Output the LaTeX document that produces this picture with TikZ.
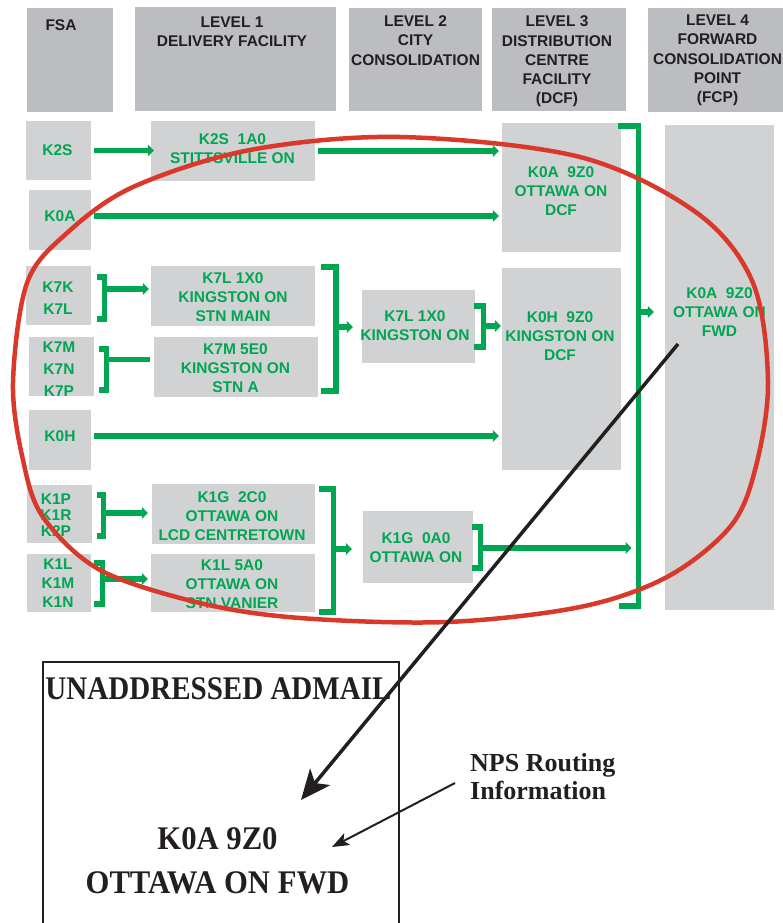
\documentclass[tikz,border=0pt]{standalone}
\usepackage{fontspec}
\setmainfont{Liberation Serif}
\setsansfont{Liberation Sans}
\usepackage{graphicx}
\usetikzlibrary{arrows.meta,fit}
\definecolor{gr}{HTML}{00A651}
\definecolor{rd}{HTML}{D8392B}
\definecolor{hdgrey}{HTML}{BCBDC0}
\definecolor{bxgrey}{HTML}{D1D2D4}
\definecolor{hdtext}{HTML}{231F20}
\definecolor{blk}{HTML}{231F20}
\begin{document}
\begin{tikzpicture}[x=1pt,y=-1pt,
  hbox/.style={fill=hdgrey, inner sep=0pt, draw=none},
  cbox/.style={fill=bxgrey, inner sep=0pt, draw=none},
  htxt/.style={text=hdtext, font=\sffamily\bfseries\fontsize{15.5}{19.3}\selectfont, align=center, inner sep=0pt},
  gtxt/.style={text=gr, font=\sffamily\bfseries\fontsize{15.5}{19}\selectfont, align=center, inner sep=0pt},
  garrow/.style={draw=gr, line width=5.5pt, -{Triangle[length=6pt,width=12pt]}},
  gline/.style={draw=gr, line width=5.5pt},
  gbrack/.style={draw=gr, line width=5.5pt, line join=miter, line cap=butt},
  redloop/.style={draw=rd, line width=4.5pt},
  bigarrow/.style={draw=blk, line width=3.5pt, -{Stealth[length=30pt,width=26pt,inset=8pt]}},
  smallarrow/.style={draw=blk, line width=2pt, -{Stealth[length=17pt,width=13pt,inset=4pt]}},
  mailbox/.style={draw=blk, line width=2.2pt, inner sep=0pt, minimum width=356pt, minimum height=300pt, anchor=north west},
  serifb/.style={text=blk, inner sep=0pt, align=center}
]
\useasboundingbox (0,0) rectangle (783,923);

% header boxes
\node[hbox, fit={(27,8) (113,112)}] (hfsa) {};
\node[hbox, fit={(135,7) (336,111)}] (hl1) {};
\node[hbox, fit={(349,8) (482,111)}] (hl2) {};
\node[hbox, fit={(492,8) (626,111)}] (hl3) {};
\node[hbox, fit={(648,8) (783,112)}] (hl4) {};

\node[htxt] (thfsa) at (61,25.5) {FSA};
\node[htxt] (thl1) at (232,32) {LEVEL 1\\DELIVERY FACILITY};
\node[htxt] (thl2) at (415.5,40.5) {LEVEL 2\\CITY\\CONSOLIDATION};
\node[htxt] (thl3) at (557,61.5) {LEVEL 3\\DISTRIBUTION\\CENTRE\\FACILITY\\(DCF)};
\node[htxt] (thl4) at (717.5,60.5) {LEVEL 4\\FORWARD\\CONSOLIDATION\\POINT\\(FCP)};

% content boxes
\node[cbox, fit={(26,121) (91,180)}] (bk2s) {};
\node[cbox, fit={(29,190) (91,250)}] (bk0a) {};
\node[cbox, fit={(151,121) (315,181)}] (bstit) {};
\node[cbox, fit={(502,123) (621,252)}] (bdcfo) {};
\node[cbox, fit={(665,125) (774,610)}] (bfwd) {};
\node[cbox, fit={(26,266) (91,325)}] (bk7k) {};
\node[cbox, fit={(29,337) (94,396)}] (bk7m) {};
\node[cbox, fit={(29,410) (91,470)}] (bk0h) {};
\node[cbox, fit={(151,266) (315,326)}] (bmain) {};
\node[cbox, fit={(154,337) (318,397)}] (bstna) {};
\node[cbox, fit={(362,290) (475,363)}] (bking2) {};
\node[cbox, fit={(502,268) (621,470)}] (bdcfk) {};
\node[cbox, fit={(27,485) (92,543)}] (bk1p) {};
\node[cbox, fit={(27,554) (91,612)}] (bk1l) {};
\node[cbox, fit={(152,484) (315,544)}] (blcd) {};
\node[cbox, fit={(151,554) (315,612)}] (bvan) {};
\node[cbox, fit={(363,511) (473,583)}] (bott2) {};

% green texts
\node[gtxt] (tk2s) at (57.5,150.5) {K2S};
\node[gtxt] (tk0a) at (60,216) {K0A};
\node[gtxt] (tstit) at (232.5,148.5) {K2S~~1A0\\STITTSVILLE ON};
\node[gtxt] (tdcfo) at (561,190.7) {K0A~~9Z0\\OTTAWA ON\\DCF};
\node[gtxt] (tfwd) at (719.5,312.5) {K0A~~9Z0\\OTTAWA ON\\FWD};
\node[gtxt, font=\sffamily\bfseries\fontsize{15.5}{21.5}\selectfont] (tk7k) at (58,298) {K7K\\K7L};
\node[gtxt, font=\sffamily\bfseries\fontsize{15.5}{22}\selectfont] (tk7m) at (59,369) {K7M\\K7N\\K7P};
\node[gtxt] (tk0h) at (60,436) {K0H};
\node[gtxt] (tmain) at (233,296.7) {K7L 1X0\\KINGSTON ON\\STN MAIN};
\node[gtxt] (tstna) at (235.5,368) {K7M 5E0\\KINGSTON ON\\STN A};
\node[gtxt] (tking2) at (415,325.5) {K7L 1X0\\KINGSTON ON};
\node[gtxt] (tdcfk) at (560,336) {K0H~~9Z0\\KINGSTON ON\\DCF};
\node[gtxt, font=\sffamily\bfseries\fontsize{15.5}{16}\selectfont] (tk1p) at (56,515) {K1P\\K1R\\K2P};
\node[gtxt] (tk1l) at (58,583) {K1L\\K1M\\K1N};
\node[gtxt] (tlcd) at (232,516) {K1G~~2C0\\OTTAWA ON\\LCD CENTRETOWN};
\node[gtxt] (tvan) at (232,584) {K1L 5A0\\OTTAWA ON\\STN VANIER};
\node[gtxt] (tott2) at (416,548) {K1G~~0A0\\OTTAWA ON};

% straight green arrows
\draw[garrow] ([xshift=3pt]bk2s.east) -- ([xshift=3pt]bk2s.east -| bstit.west);
\draw[garrow] ([xshift=3pt]bstit.east) -- ([xshift=-3pt]bstit.east -| bdcfo.west);
\draw[garrow] ([xshift=3pt,yshift=4pt]bk0a.east) -- ([xshift=-3pt,yshift=4pt]bk0a.east -| bdcfo.west);
\draw[garrow] ([xshift=3pt,yshift=4pt]bk0h.east) -- ([xshift=-3pt,yshift=4pt]bk0h.east -| bdcfk.west);

% brackets
\draw[gbrack] (97,277) -- (104.3,277) -- (104.3,319) -- (97,319);
\coordinate (c1) at (104.3,289);
\draw[garrow] (c1) -- ([xshift=-2pt]c1 -| bmain.west);

\draw[gbrack] (99,349) -- (106.3,349) -- (106.3,390) -- (99,390);
\coordinate (c2) at (106.3,359.5);
\draw[gline] (c2) -- ([xshift=-4pt]c2 -| bstna.west);

\draw[gbrack] (321,267) -- (336,267) -- (336,391) -- (321,391);
\coordinate (c3) at (336,327);
\draw[garrow] (c3) -- ([xshift=-9pt]c3 -| bking2.west);

\draw[gbrack] (474,306) -- (483.3,306) -- (483.3,347) -- (474,347);
\coordinate (c4) at (483.3,326);
\draw[garrow] (c4) -- ([xshift=-1pt]c4 -| bdcfk.west);

\draw[gbrack] (618,126) -- (638.5,126) -- (638.5,606) -- (619,606);
\coordinate (c5) at (638.5,312);
\coordinate (c5in) at (635.5,548);
\draw[garrow] (c5) -- ([xshift=-11pt]c5 -| bfwd.west);

\draw[gbrack] (97,495) -- (103.3,495) -- (103.3,536) -- (97,536);
\coordinate (c6) at (103.3,513);
\draw[garrow] (c6) -- ([xshift=-4pt]c6 -| blcd.west);

\draw[gbrack] (94,563) -- (102.3,563) -- (102.3,604) -- (94,604);
\coordinate (c7) at (102.3,579);
\draw[garrow] (c7) -- ([xshift=-3pt]c7 -| bvan.west);

\draw[gbrack] (319,489) -- (333.3,489) -- (333.3,612) -- (319,612);
\coordinate (c8) at (333.3,549);
\draw[garrow] (c8) -- ([xshift=-11pt]c8 -| bott2.west);

\draw[gbrack] (472,527) -- (480.3,527) -- (480.3,568) -- (472,568);
\coordinate (c9) at (480.3,548);
\draw[garrow] (c9) -- ([xshift=-4pt]c5in);

% red loop
\draw[redloop] plot[smooth cycle, tension=0.55] coordinates {(400,137) (580,157) (697,213) (753,283) (768,383) (755,470) (730,527) (667,577) (580,607) (447,622) (300,618) (200,603) (100,570) (43,517) (23,460) (13,383) (27,283) (67,233) (133,187) (250,150)};

% mail piece
\node[mailbox] (mail) at (42,661) {};
\node[serifb, font=\rmfamily\bfseries\fontsize{33}{40}\selectfont] (tunad) at (218.5,689) {\scalebox{0.88}[1]{UNADDRESSED ADMAIL}};
\node[serifb, font=\rmfamily\bfseries\fontsize{33}{43.5}\selectfont] (tlabel) at (217.5,861) {\scalebox{0.93}[1]{K0A 9Z0}\\\scalebox{0.93}[1]{OTTAWA ON FWD}};
\node[serifb, align=left, anchor=west, font=\rmfamily\bfseries\fontsize{26}{28}\selectfont] (tnps) at (470,777) {NPS Routing\\Information};

% black arrows
\coordinate (fwdpt) at (678,344);
\coordinate (mailpt) at (301,800);
\draw[bigarrow] (fwdpt) -- (mailpt);
\coordinate (npstip) at (332,847);
\draw[smallarrow] ([xshift=-15pt,yshift=-6pt]tnps.west) -- (npstip);
\end{tikzpicture}
\end{document}
